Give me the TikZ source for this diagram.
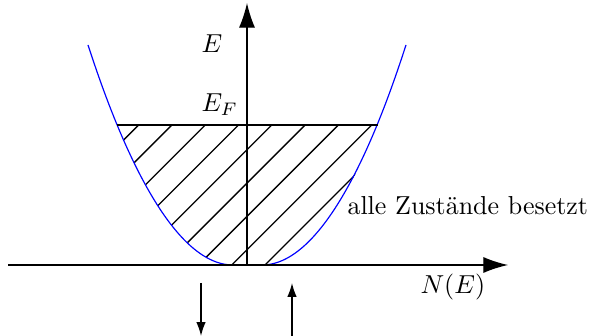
\documentclass[tikz,border=0pt]{standalone}
\usetikzlibrary{arrows.meta}
\begin{document}
\begin{tikzpicture}[x=0.385pt,y=-0.385pt,
  axis/.style={line width=0.5pt,-{Latex[length=9.5pt,width=6.2pt]}},
  hatchline/.style={line width=0.5pt},
  band/.style={blue,line width=0.45pt},
  smallarrow/.style={line width=0.5pt,-{Latex[length=5.3pt,width=3.6pt]}},
  lbl/.style={inner sep=0pt,anchor=base west}]
\useasboundingbox (0,0) rectangle (594,336);
\clip (0,0) rectangle (594,336);
% key points
\coordinate (vl) at (233,265);
\coordinate (vr) at (262,265);
\coordinate (tl) at (88,45);
\coordinate (tr) at (406,45);
\coordinate (EFl) at (117.3,125);
\coordinate (EFr) at (377.7,125);
\coordinate (xs) at (8,265);
\coordinate (xe) at (508,265);
\coordinate (ys) at (247,265);
\coordinate (ye) at (247,3);
% hatching
\begin{scope}
  \clip (vr) parabola (EFr) -- (EFl) parabola[bend at end] (vl) -- cycle;
  \foreach \k in {0,...,8}
    \draw[hatchline] ({265-33.3*\k-30},295) -- ++(200,-200);
\end{scope}
% band
\draw[band] (vl) parabola (tl);
\draw[band] (vr) parabola (tr);
\draw[band] (vl) -- (vr);
% Fermi level
\draw[hatchline] (EFl) -- (EFr);
% axes
\draw[axis] (xs) -- (xe);
\draw[axis] (ys) -- (ye);
% labels
\node[lbl] (lE) at (201,52.5) {$E$};
\node[lbl] (lEF) at (201,112) {$E_F$};
\node[lbl] (lN) at (420,294) {$N(E)$};
\node[lbl] (lall) at (347,215) {alle Zustände besetzt};
% small arrows
\coordinate (d1) at (201,283);
\coordinate (d2) at (201,336);
\coordinate (u1) at (292,340);
\coordinate (u2) at (292,283);
\draw[smallarrow] (d1) -- (d2);
\draw[smallarrow] (u1) -- (u2);
\end{tikzpicture}
\end{document}
